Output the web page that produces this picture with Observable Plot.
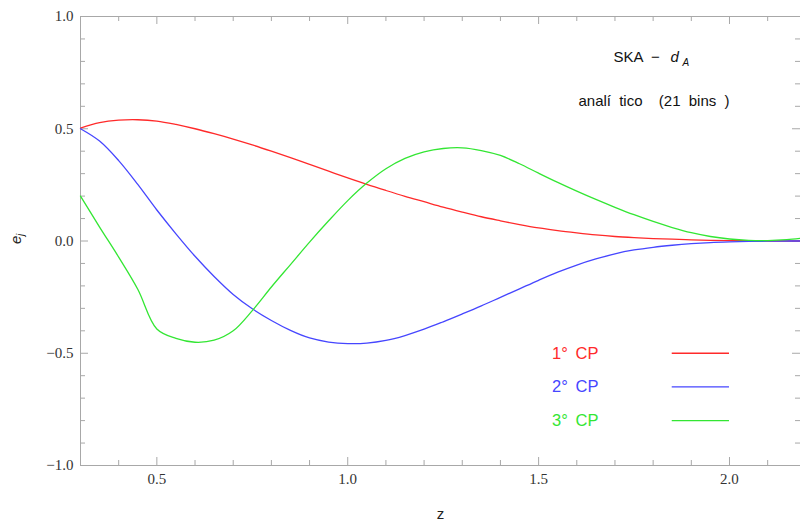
<!DOCTYPE html>
<html><head><meta charset="utf-8">
<script src="https://cdn.jsdelivr.net/npm/d3@7"></script>
<script src="https://cdn.jsdelivr.net/npm/@observablehq/plot@0.6"></script>
<style>body{margin:0;background:#fff} svg text{white-space:pre}</style>
</head><body><div id="chart"></div>
<script>
// ---- data ----
const zGrid = [0.3,0.35,0.4,0.45,0.5,0.55,0.6,0.65,0.7,0.75,0.8,0.85,0.9,0.95,1.0,1.05,1.1,1.15,1.2,1.25,1.3,1.35,1.4,1.45,1.5,1.55,1.6,1.65,1.7,1.75,1.8,1.85,1.9,1.95,2.0,2.05,2.1,2.15,2.186];
const cp1 = [0.503,0.527,0.538,0.540,0.534,0.519,0.500,0.478,0.454,0.428,0.400,0.371,0.341,0.311,0.281,0.252,0.225,0.199,0.175,0.151,0.129,0.108,0.090,0.073,0.058,0.046,0.036,0.027,0.020,0.015,0.011,0.008,0.005,0.003,0.002,0.001,0.0,0.0,0.0];
const cp2 = [0.500,0.445,0.358,0.252,0.138,0.032,-0.068,-0.158,-0.238,-0.302,-0.354,-0.398,-0.432,-0.450,-0.457,-0.455,-0.443,-0.421,-0.393,-0.360,-0.325,-0.289,-0.251,-0.213,-0.175,-0.139,-0.107,-0.080,-0.057,-0.040,-0.028,-0.019,-0.012,-0.007,-0.004,-0.002,-0.001,0.0,0.0];
const cp3 = [0.200,0.062,-0.072,-0.215,-0.392,-0.434,-0.451,-0.442,-0.400,-0.310,-0.205,-0.105,-0.005,0.090,0.180,0.258,0.322,0.368,0.397,0.412,0.415,0.403,0.381,0.344,0.302,0.261,0.222,0.185,0.150,0.117,0.087,0.060,0.037,0.020,0.009,0.003,0.002,0.006,0.012];

const seriesNames = ["1° CP", "2° CP", "3° CP"];
const legendY = [-0.5, -0.65, -0.8];
const colors = ["#ff2a2a", "#4646ff", "#33e633"];

const xMajor = [0.5, 1.0, 1.5, 2.0];
const xMinor = [0.4,0.6,0.7,0.8,0.9,1.1,1.2,1.3,1.4,1.6,1.7,1.8,1.9,2.1];
const yMajor = [-1.0, -0.5, 0.0, 0.5, 1.0];
const yMinor = [-0.9,-0.8,-0.7,-0.6,-0.4,-0.3,-0.2,-0.1,0.1,0.2,0.3,0.4,0.6,0.7,0.8,0.9];

const title1 = "SKA  \u2212 ";
const titleD = "d";
const titleSub = "A";
const subtitle = "analí tico  (21 bins )";
const xLabel = "z";
const yLabelMain = "e";
const yLabelSub = "j";

// ---- build ----
const toRows = (es) => zGrid.map((z, i) => ({z, e: es[i]}));
const s1 = toRows(cp1), s2 = toRows(cp2), s3 = toRows(cp3);
const legend = seriesNames.map((t, i) => ({t, y: legendY[i], c: colors[i]}));

const W = 800, H = 524, mL = 80, mR = 0, mT = 16, mB = 59;
const pw = W - mL - mR, ph = H - mT - mB;
const fc = "#a8a8a8";
const sans = "Liberation Sans, Arial, sans-serif";
const serif = "Liberation Serif, Times New Roman, serif";

const chart = Plot.plot({
  width: W, height: H,
  marginLeft: mL, marginRight: mR, marginTop: mT, marginBottom: mB,
  x: {domain: [0.3, 2.186]},
  y: {domain: [-1, 1]},
  style: {background: "#fff"},
  marks: [
    Plot.frame({stroke: fc}),
    Plot.ruleX(xMajor, {insetTop: ph - 8, stroke: fc}),
    Plot.ruleX(xMinor, {insetTop: ph - 5, stroke: fc}),
    Plot.ruleX(xMajor, {insetBottom: ph - 8, stroke: fc}),
    Plot.ruleX(xMinor, {insetBottom: ph - 5, stroke: fc}),
    Plot.ruleY(yMajor, {insetRight: pw - 8, stroke: fc}),
    Plot.ruleY(yMinor, {insetRight: pw - 5, stroke: fc}),
    Plot.ruleY(yMajor, {insetLeft: pw - 8, stroke: fc}),
    Plot.ruleY(yMinor, {insetLeft: pw - 5, stroke: fc}),
    Plot.axisX(xMajor, {tickSize: 0, tickPadding: 8, tickFormat: d3.format(".1f"), label: null,
      fontFamily: serif, fontSize: 15, color: "#333"}),
    Plot.axisY(yMajor, {tickSize: 0, tickPadding: 7, tickFormat: d3.format(".1f"), label: null,
      fontFamily: serif, fontSize: 15, color: "#333"}),
    Plot.line(s1, {x: "z", y: "e", stroke: colors[0], strokeWidth: 1.3, curve: "catmull-rom"}),
    Plot.line(s2, {x: "z", y: "e", stroke: colors[1], strokeWidth: 1.3, curve: "catmull-rom"}),
    Plot.line(s3, {x: "z", y: "e", stroke: colors[2], strokeWidth: 1.3, curve: "catmull-rom"}),
    Plot.text(legend, {x: () => 1.596, y: "y", text: "t", fill: "c", fontFamily: sans, fontSize: 16.5}),
    Plot.ruleY(legend, {y: "y", x1: () => 1.85, x2: () => 2.0, stroke: "c", strokeWidth: 1.3}),
    Plot.text([title1], {frameAnchor: "top-left", dx: 533, dy: 35, textAnchor: "start", fontFamily: sans, fontSize: 15, fill: "#111"}),
    Plot.text([titleD], {frameAnchor: "top-left", dx: 590, dy: 35, textAnchor: "start", fontFamily: sans, fontSize: 15, fontStyle: "italic", fill: "#111"}),
    Plot.text([titleSub], {frameAnchor: "top-left", dx: 602, dy: 42, textAnchor: "start", fontFamily: sans, fontSize: 10, fontStyle: "italic", fill: "#111"}),
    Plot.text([subtitle], {frameAnchor: "top-left", dx: 498, dy: 79, textAnchor: "start", fontFamily: sans, fontSize: 15, fill: "#111"}),
    Plot.text([xLabel], {frameAnchor: "bottom", dy: 53, fontFamily: sans, fontSize: 15, fill: "#222"}),
    Plot.text([yLabelMain], {frameAnchor: "left", dx: -64, dy: 3, rotate: -90, fontFamily: sans, fontSize: 15, fontStyle: "italic", fill: "#222"}),
    Plot.text([yLabelSub], {frameAnchor: "left", dx: -60, dy: -5, rotate: -90, fontFamily: sans, fontSize: 10, fontStyle: "italic", fill: "#222"})
  ]
});
// widen word gaps like the reference rendering
d3.select(chart).selectAll("text").filter(function() { return this.textContent === subtitle; }).style("word-spacing", "4px");
d3.select(chart).selectAll("text").filter(function() { return seriesNames.includes(this.textContent); }).style("word-spacing", "3px");
document.getElementById("chart").appendChild(chart);
</script>
</body></html>
